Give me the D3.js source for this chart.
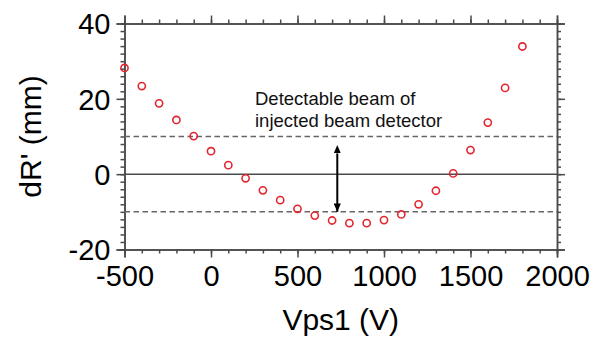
<!DOCTYPE html>
<html>
<head>
<meta charset="utf-8">
<script src="https://cdn.jsdelivr.net/npm/d3@7"></script>
<style>
  body { margin: 0; background: #fff; }
  svg { display: block; font-family: "Liberation Sans", Arial, sans-serif; }
</style>
</head>
<body>
<div id="chart"></div>
<script>
// data
const vps1 = [-500, -400, -300, -200, -100, 0, 100, 200, 300, 400, 500, 600, 700, 800, 900, 1000, 1100, 1200, 1300, 1400, 1500, 1600, 1700, 1800];
const dR = [28.2, 23.4, 18.8, 14.4, 10.1, 6.1, 2.4, -1.1, -4.3, -6.9, -9.2, -11.0, -12.3, -13.0, -13.0, -12.2, -10.7, -8.0, -4.4, 0.2, 6.4, 13.7, 22.9, 33.9];
const xTicks = [-500, 0, 500, 1000, 1500, 2000];
const yTicks = [-20, 0, 20, 40];
const limits = [10, -10];
const arrowX = 730, arrowTop = 5.5, arrowBottom = -10;

const width = 601, height = 338;
const margin = { top: 23.5, right: 44, bottom: 88.5, left: 124.5 };

const svg = d3.select('#chart').append('svg')
  .attr('width', width)
  .attr('height', height);

const x = d3.scaleLinear().domain([-500, 2000]).range([margin.left, width - margin.right]);
const y = d3.scaleLinear().domain([-20, 40]).range([height - margin.bottom, margin.top]);

const axisColor = '#4a4a4a';

// axes: major + minor ticks on all four sides, pointing outward
function styleAxis(g) {
  g.select('.domain').attr('stroke', axisColor).attr('stroke-width', 1.5);
  g.selectAll('.tick line').attr('stroke', axisColor).attr('stroke-width', 1.5);
}

const xMinor = d3.range(-500, 2001, 100);
const yMinor = d3.range(-20, 41, 2);

function addAxis(axisFn, scale, majors, minors, transform, labels) {
  const gMinor = svg.append('g').attr('transform', transform)
    .call(axisFn(scale).tickValues(minors).tickSize(4).tickFormat(''));
  styleAxis(gMinor);
  const gMajor = svg.append('g').attr('transform', transform)
    .call(axisFn(scale).tickValues(majors).tickSize(8).tickPadding(6).tickFormat(labels ? d => String(d) : ''));
  styleAxis(gMajor);
  gMajor.selectAll('text').attr('fill', '#000').style('font-size', '29px');
  return gMajor;
}

addAxis(d3.axisBottom, x, xTicks, xMinor, `translate(0,${height - margin.bottom})`, true)
  .selectAll('text').attr('dy', '0.78em');
addAxis(d3.axisTop, x, xTicks, xMinor, `translate(0,${margin.top})`, false);
addAxis(d3.axisLeft, y, yTicks, yMinor, `translate(${margin.left},0)`, true)
  .selectAll('text').attr('dy', '0.36em');
addAxis(d3.axisRight, y, yTicks, yMinor, `translate(${width - margin.right},0)`, false);

// zero line
svg.append('line')
  .attr('x1', x(-500)).attr('x2', x(2000))
  .attr('y1', y(0)).attr('y2', y(0))
  .attr('stroke', axisColor).attr('stroke-width', 1.5);

// detectable range lines
svg.selectAll('.limit')
  .data(limits)
  .enter()
  .append('line')
  .attr('x1', x(-500)).attr('x2', x(2000))
  .attr('y1', d => y(d)).attr('y2', d => y(d))
  .attr('stroke', '#666')
  .attr('stroke-width', 1.5)
  .attr('stroke-dasharray', '5.5,3.5');

// double arrow
const defs = svg.append('defs');
['start', 'end'].forEach(k => {
  defs.append('marker')
    .attr('id', 'arrow-' + k)
    .attr('viewBox', '0 0 10 10')
    .attr('refX', k === 'end' ? 10 : 0).attr('refY', 5)
    .attr('markerWidth', 4.2).attr('markerHeight', 3.6)
    .attr('markerUnits', 'strokeWidth')
    .attr('orient', 'auto-start-reverse')
    .attr('preserveAspectRatio', 'none')
    .append('path')
    .attr('d', 'M0,0 L10,5 L0,10 Z')
    .attr('fill', '#000');
});
svg.append('line')
  .attr('x1', x(arrowX)).attr('x2', x(arrowX))
  .attr('y1', y(arrowTop)).attr('y2', y(arrowBottom))
  .attr('stroke', '#000').attr('stroke-width', 2)
  .attr('marker-start', 'url(#arrow-start)')
  .attr('marker-end', 'url(#arrow-end)');

// annotation
const note = svg.append('text')
  .attr('x', 255).attr('y', 105)
  .attr('fill', '#111')
  .style('font-size', '18.5px');
note.append('tspan').attr('x', 255).text('Detectable beam of');
note.append('tspan').attr('x', 255).attr('dy', 21.5).text('injected beam detector');

// data points
svg.selectAll('circle')
  .data(vps1.map((v, i) => [v, dR[i]]))
  .enter()
  .append('circle')
  .attr('cx', d => x(d[0]))
  .attr('cy', d => y(d[1]))
  .attr('r', 3.6)
  .attr('fill', 'none')
  .attr('stroke', '#e3262e')
  .attr('stroke-width', 1.6);

// axis titles
svg.append('text')
  .attr('x', x(750)).attr('y', 330)
  .attr('text-anchor', 'middle')
  .attr('fill', '#000')
  .style('font-size', '30px')
  .text('Vps1 (V)');

svg.append('text')
  .attr('transform', `translate(41,${y(10)}) rotate(-90)`)
  .attr('text-anchor', 'middle')
  .attr('fill', '#000')
  .style('font-size', '30px')
  .text("dR' (mm)");
</script>
</body>
</html>
